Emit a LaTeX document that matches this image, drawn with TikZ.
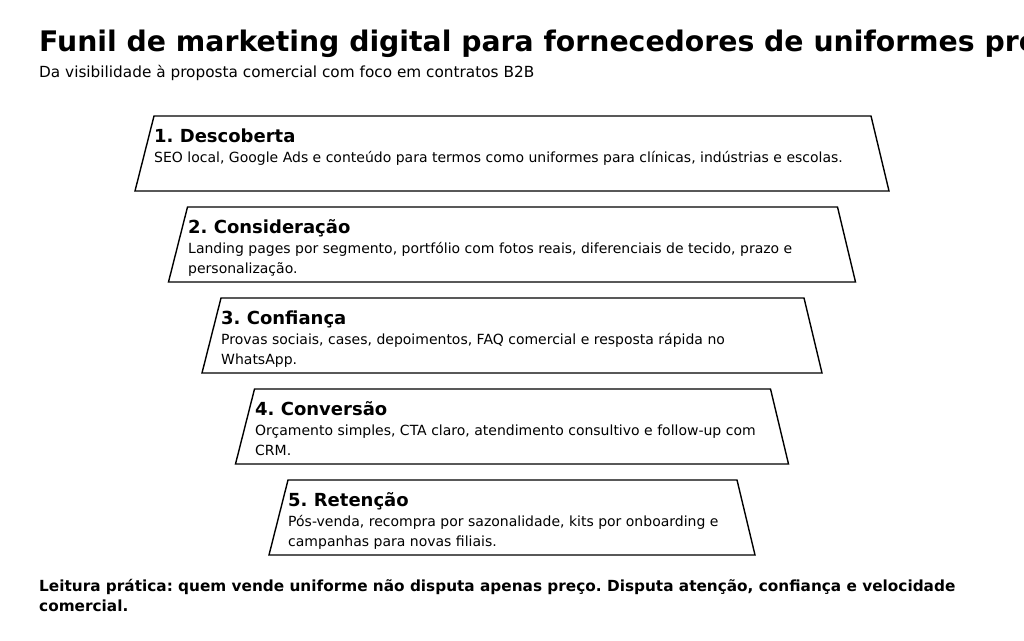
\documentclass[tikz,border=0pt]{standalone}
\usepackage{fontspec}
\setmainfont{DejaVu Sans}
\usetikzlibrary{positioning}
\frenchspacing

\tikzset{
  funnel/.style={draw=black, line width=1.4pt, fill=white, line join=miter},
  headline/.style={anchor=base west, inner sep=0pt, font=\fontsize{28.3}{32}\selectfont\bfseries},
  subline/.style={anchor=base west, inner sep=0pt, font=\fontsize{15.3}{18}\selectfont},
  stagetitle/.style={anchor=base west, inner sep=0pt, font=\fontsize{18}{20}\selectfont\bfseries},
  stagetext/.style={anchor=base west, inner sep=0pt, align=left, font=\fontsize{14}{20}\selectfont},
  footline/.style={anchor=base west, inner sep=0pt, align=left, font=\fontsize{15.3}{20}\selectfont\bfseries}
}

\begin{document}
\begin{tikzpicture}[x=1pt, y=-1pt]
\useasboundingbox (0,0) rectangle (1024,640);

\node[headline] (title) at (39,51) {Funil de marketing digital para fornecedores de uniformes profissionais};
\node[subline] (subtitle) at (39,77) {Da visibilidade à proposta comercial com foco em contratos B2B};

% funnel stages (multi-line texts sit on their last baseline)
\draw[funnel] (154,116) -- (871,116) -- (889,191) -- (135,191) -- cycle;
\node[stagetitle] (s1) at (154,142) {1. Descoberta};
\node[stagetext] (t1) at (154,162) {SEO local, Google Ads e conteúdo para termos como uniformes para clínicas, indústrias e escolas.};

\draw[funnel] (187.5,207) -- (837.5,207) -- (855.5,282) -- (168.5,282) -- cycle;
\node[stagetitle] (s2) at (188,233) {2. Consideração};
\node[stagetext] (t2) at (188,273) {Landing pages por segmento, portfólio com fotos reais, diferenciais de tecido, prazo e\\personalização.};

\draw[funnel] (221,298) -- (804,298) -- (822,373) -- (202,373) -- cycle;
\node[stagetitle] (s3) at (221,324) {3. Confiança};
\node[stagetext] (t3) at (221,364) {Provas sociais, cases, depoimentos, FAQ comercial e resposta rápida no\\WhatsApp.};

\draw[funnel] (254.5,389) -- (770.5,389) -- (788.5,464) -- (235.5,464) -- cycle;
\node[stagetitle] (s4) at (255,415) {4. Conversão};
\node[stagetext] (t4) at (255,455) {Orçamento simples, CTA claro, atendimento consultivo e follow-up com\\CRM.};

\draw[funnel] (288,480) -- (737,480) -- (755,555) -- (269,555) -- cycle;
\node[stagetitle] (s5) at (288,506) {5. Retenção};
\node[stagetext] (t5) at (288,546) {Pós-venda, recompra por sazonalidade, kits por onboarding e\\campanhas para novas filiais.};

\node[footline] (note) at (39,611) {Leitura prática: quem vende uniforme não disputa apenas preço. Disputa atenção, confiança e velocidade\\comercial.};
\end{tikzpicture}
\end{document}
